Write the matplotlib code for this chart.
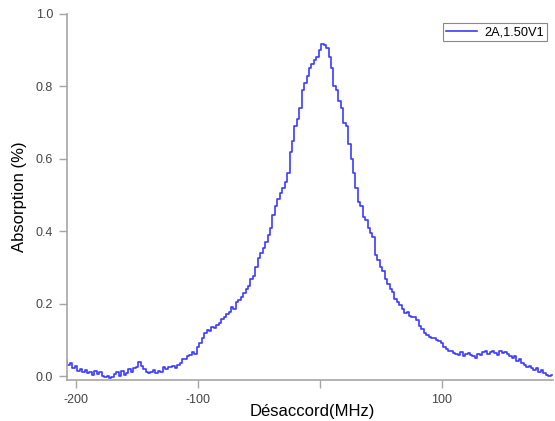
import numpy as np
from matplotlib import pyplot as plt
from matplotlib.ticker import FormatStrFormatter

plt.rcParams['font.family'] = ['Liberation Sans', 'DejaVu Sans']
plt.rcParams['axes.unicode_minus'] = False

# detuning grid (MHz), one sample every 2 MHz, and absorption
detuning = list(range(-208, 191, 2))
absorption = [0.045, 0.030, 0.036, 0.022, 0.028, 0.015, 0.020, 0.010, 0.018, 0.008,
              0.012, 0.004, 0.015, 0.006, 0.010, 0.000, -0.004, 0.000, -0.005, -0.002,
              0.006, 0.010, 0.000, 0.014, 0.004, 0.008, 0.020, 0.012, 0.022, 0.026,
              0.038, 0.028, 0.020, 0.012, 0.008, 0.010, 0.016, 0.008, 0.014, 0.012,
              0.024, 0.020, 0.026, 0.024, 0.028, 0.022, 0.030, 0.036, 0.048, 0.046,
              0.055, 0.058, 0.066, 0.062, 0.080, 0.090, 0.104, 0.118, 0.128, 0.125,
              0.135, 0.132, 0.140, 0.146, 0.158, 0.162, 0.170, 0.178, 0.192, 0.186,
              0.205, 0.210, 0.218, 0.230, 0.240, 0.250, 0.268, 0.276, 0.300, 0.325,
              0.340, 0.355, 0.370, 0.390, 0.410, 0.445, 0.470, 0.490, 0.505, 0.520,
              0.535, 0.560, 0.620, 0.650, 0.690, 0.710, 0.740, 0.790, 0.810, 0.830,
              0.850, 0.862, 0.872, 0.880, 0.900, 0.918, 0.915, 0.905, 0.880, 0.850,
              0.800, 0.790, 0.760, 0.740, 0.700, 0.690, 0.640, 0.600, 0.560, 0.520,
              0.480, 0.470, 0.440, 0.430, 0.410, 0.395, 0.385, 0.335, 0.320, 0.300,
              0.290, 0.268, 0.255, 0.240, 0.232, 0.212, 0.205, 0.196, 0.186, 0.175,
              0.178, 0.165, 0.162, 0.162, 0.155, 0.138, 0.130, 0.118, 0.112, 0.108,
              0.105, 0.104, 0.100, 0.098, 0.090, 0.080, 0.075, 0.070, 0.068, 0.064,
              0.062, 0.058, 0.066, 0.056, 0.060, 0.064, 0.058, 0.055, 0.050, 0.062,
              0.058, 0.066, 0.068, 0.062, 0.066, 0.070, 0.064, 0.058, 0.068, 0.064,
              0.066, 0.060, 0.055, 0.050, 0.054, 0.042, 0.046, 0.036, 0.030, 0.025,
              0.028, 0.022, 0.018, 0.022, 0.012, 0.016, 0.008, 0.004, 0.000, 0.002]
trace_label = '2A,1.50V1'

# the axis title sits over the "0" position, so that tick carries no label
x_ticks = [-200, -100, 0, 100]
x_tick_labels = ['-200', '-100', '', '100']
y_ticks = [0.0, 0.2, 0.4, 0.6, 0.8, 1.0]

axis_grey = '#a6a6a6'
text_grey = '#444444'

fig = plt.figure(figsize=(5.55, 4.21), dpi=100)
ax = fig.add_axes([67 / 555, 41 / 421, 486 / 555, 366 / 421])

ax.plot(detuning, absorption, drawstyle='steps-mid', color='#3b3bff', lw=1.2, label=trace_label)

ax.set_xlim(-207.4, 191)
ax.set_ylim(-0.011, 1.0)
ax.set_xticks(x_ticks, x_tick_labels)
ax.set_yticks(y_ticks)
ax.yaxis.set_major_formatter(FormatStrFormatter('%.1f'))

for side in ['top', 'right']:
    ax.spines[side].set_visible(False)
for side in ['left', 'bottom']:
    ax.spines[side].set_color(axis_grey)
    ax.spines[side].set_linewidth(1.2)
ax.tick_params(direction='out', length=6, width=1, color=axis_grey,
               labelcolor=text_grey, labelsize=9, pad=4)

ax.set_xlabel('Désaccord(MHz)', fontsize=12)
ax.xaxis.set_label_coords(0.505, -0.065)
ax.set_ylabel('Absorption (%)', fontsize=12)
ax.yaxis.set_label_coords(-0.082, 0.5)

leg = ax.legend(loc='upper right', bbox_to_anchor=(547 / 555, 1 - 23 / 421),
                bbox_transform=fig.transFigure, fontsize=9.2, fancybox=False,
                framealpha=1, edgecolor='#888888', borderpad=0.25,
                handlelength=2.4, handletextpad=0.6, borderaxespad=0)
leg.get_frame().set_linewidth(0.8)

fig.savefig('out.png', dpi=100)
plt.close()
